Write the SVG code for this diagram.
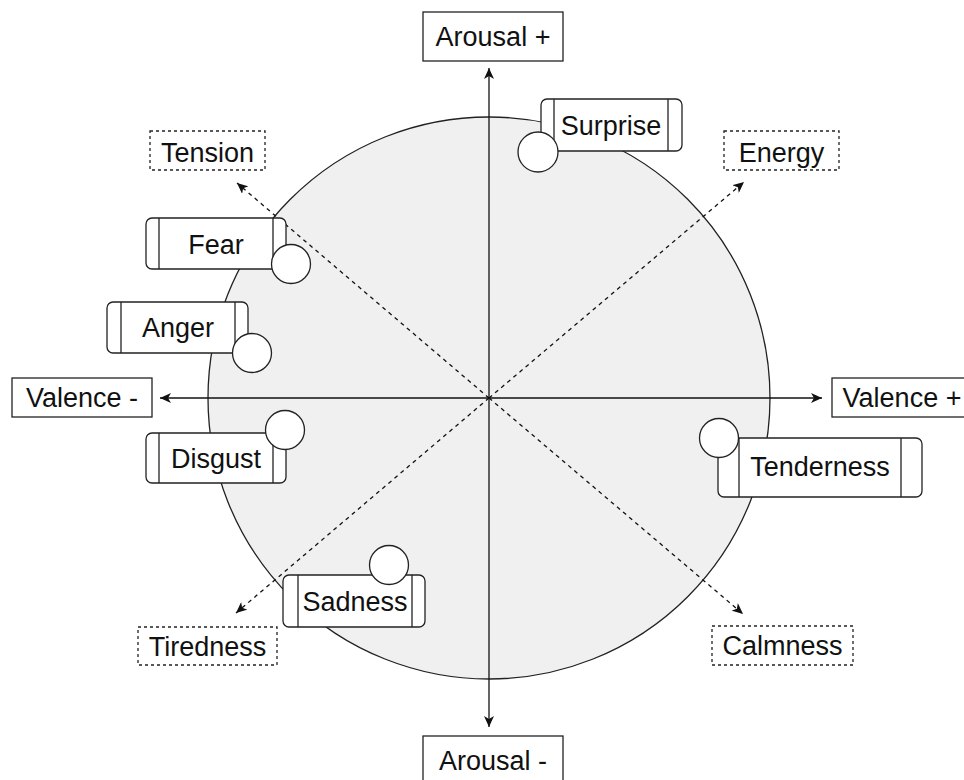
<svg xmlns="http://www.w3.org/2000/svg" width="964" height="780" viewBox="0 0 964 780">
  <style>
    .lbl { font-family: "Liberation Sans", Arial, sans-serif; font-size: 27px; fill: #111; text-anchor: middle; }
    .box { fill: #fff; stroke: #222; stroke-width: 1.3; }
    .dbox { fill: #fff; stroke: #222; stroke-width: 1.3; stroke-dasharray: 3 3; }
    .axis { stroke: #111; stroke-width: 1.3; fill: none; }
    .diag { stroke: #111; stroke-width: 1.3; fill: none; stroke-dasharray: 4 4; }
    .pill { fill: #fff; stroke: #222; stroke-width: 1.3; }
    .sep { stroke: #222; stroke-width: 1.3; }
    .dot { fill: #fff; stroke: #222; stroke-width: 1.3; }
  </style>
  <defs>
    <marker id="arrow" viewBox="0 0 11 10" refX="11" refY="5" markerWidth="11" markerHeight="10" markerUnits="userSpaceOnUse" orient="auto">
      <path d="M0,0 L11,5 L0,10 L3,5 Z" fill="#111"/>
    </marker>
  </defs>

  <rect width="964" height="780" fill="#fff"/>

  <!-- emotion space disc -->
  <circle id="disc" cx="489" cy="398" r="281" fill="#f0f0f0" stroke="#222" stroke-width="1.3"/>

  <!-- axes and diagonals -->
  <g id="connectors">
    <line class="axis" x1="489" y1="398" x2="489" y2="68" marker-end="url(#arrow)"/>
    <line class="axis" x1="489" y1="398" x2="489" y2="727" marker-end="url(#arrow)"/>
    <line class="axis" x1="489" y1="398" x2="160" y2="398" marker-end="url(#arrow)"/>
    <line class="axis" x1="489" y1="398" x2="822" y2="398" marker-end="url(#arrow)"/>
    <line class="diag" x1="489" y1="398" x2="237" y2="183" marker-end="url(#arrow)"/>
    <line class="diag" x1="489" y1="398" x2="744" y2="182" marker-end="url(#arrow)"/>
    <line class="diag" x1="489" y1="398" x2="236" y2="613" marker-end="url(#arrow)"/>
    <line class="diag" x1="489" y1="398" x2="743" y2="614" marker-end="url(#arrow)"/>
  </g>

  <!-- axis labels -->
  <g id="arousal-plus">
    <rect class="box" x="423" y="12" width="140" height="49"/>
    <text class="lbl" x="493" y="46">Arousal +</text>
  </g>
  <g id="arousal-minus">
    <rect class="box" x="423" y="736" width="140" height="49"/>
    <text class="lbl" x="493" y="770">Arousal -</text>
  </g>
  <g id="valence-minus">
    <rect class="box" x="12" y="378" width="140" height="39"/>
    <text class="lbl" x="82" y="407">Valence -</text>
  </g>
  <g id="valence-plus">
    <rect class="box" x="832" y="378" width="140" height="39"/>
    <text class="lbl" x="902" y="407">Valence +</text>
  </g>

  <!-- diagonal labels -->
  <g id="tension">
    <rect class="dbox" x="150" y="131" width="115" height="39"/>
    <text class="lbl" x="207.5" y="162">Tension</text>
  </g>
  <g id="energy">
    <rect class="dbox" x="724" y="131" width="115" height="39"/>
    <text class="lbl" x="781.5" y="162">Energy</text>
  </g>
  <g id="tiredness">
    <rect class="dbox" x="138" y="627" width="139" height="38"/>
    <text class="lbl" x="207.5" y="656">Tiredness</text>
  </g>
  <g id="calmness">
    <rect class="dbox" x="712" y="626" width="141" height="39"/>
    <text class="lbl" x="782.5" y="655">Calmness</text>
  </g>

  <!-- emotions -->
  <g id="surprise">
    <rect class="pill" x="541" y="99" width="141" height="52" rx="6"/>
    <line class="sep" x1="554" y1="99" x2="554" y2="151"/>
    <line class="sep" x1="668" y1="99" x2="668" y2="151"/>
    <text class="lbl" x="611" y="135">Surprise</text>
    <circle class="dot" cx="538" cy="152" r="20"/>
  </g>
  <g id="fear">
    <rect class="pill" x="146" y="218" width="140" height="51" rx="6"/>
    <line class="sep" x1="159" y1="218" x2="159" y2="269"/>
    <line class="sep" x1="273" y1="218" x2="273" y2="269"/>
    <text class="lbl" x="216" y="254">Fear</text>
    <circle class="dot" cx="291" cy="264" r="19.5"/>
  </g>
  <g id="anger">
    <rect class="pill" x="107" y="302" width="141" height="51" rx="6"/>
    <line class="sep" x1="121" y1="302" x2="121" y2="353"/>
    <line class="sep" x1="235" y1="302" x2="235" y2="353"/>
    <text class="lbl" x="178" y="337">Anger</text>
    <circle class="dot" cx="252" cy="353" r="19.5"/>
  </g>
  <g id="disgust">
    <rect class="pill" x="146" y="433" width="140" height="50" rx="6"/>
    <line class="sep" x1="159" y1="433" x2="159" y2="483"/>
    <line class="sep" x1="273" y1="433" x2="273" y2="483"/>
    <text class="lbl" x="216" y="468">Disgust</text>
    <circle class="dot" cx="285" cy="430" r="19.5"/>
  </g>
  <g id="tenderness">
    <rect class="pill" x="718" y="438" width="204" height="59" rx="6"/>
    <line class="sep" x1="739" y1="438" x2="739" y2="497"/>
    <line class="sep" x1="901" y1="438" x2="901" y2="497"/>
    <text class="lbl" x="820" y="476">Tenderness</text>
    <circle class="dot" cx="719" cy="438" r="19.5"/>
  </g>
  <g id="sadness">
    <rect class="pill" x="283" y="575" width="142" height="52" rx="6"/>
    <line class="sep" x1="298" y1="575" x2="298" y2="627"/>
    <line class="sep" x1="412" y1="575" x2="412" y2="627"/>
    <text class="lbl" x="355" y="611">Sadness</text>
    <circle class="dot" cx="389" cy="565" r="19.5"/>
  </g>
</svg>
